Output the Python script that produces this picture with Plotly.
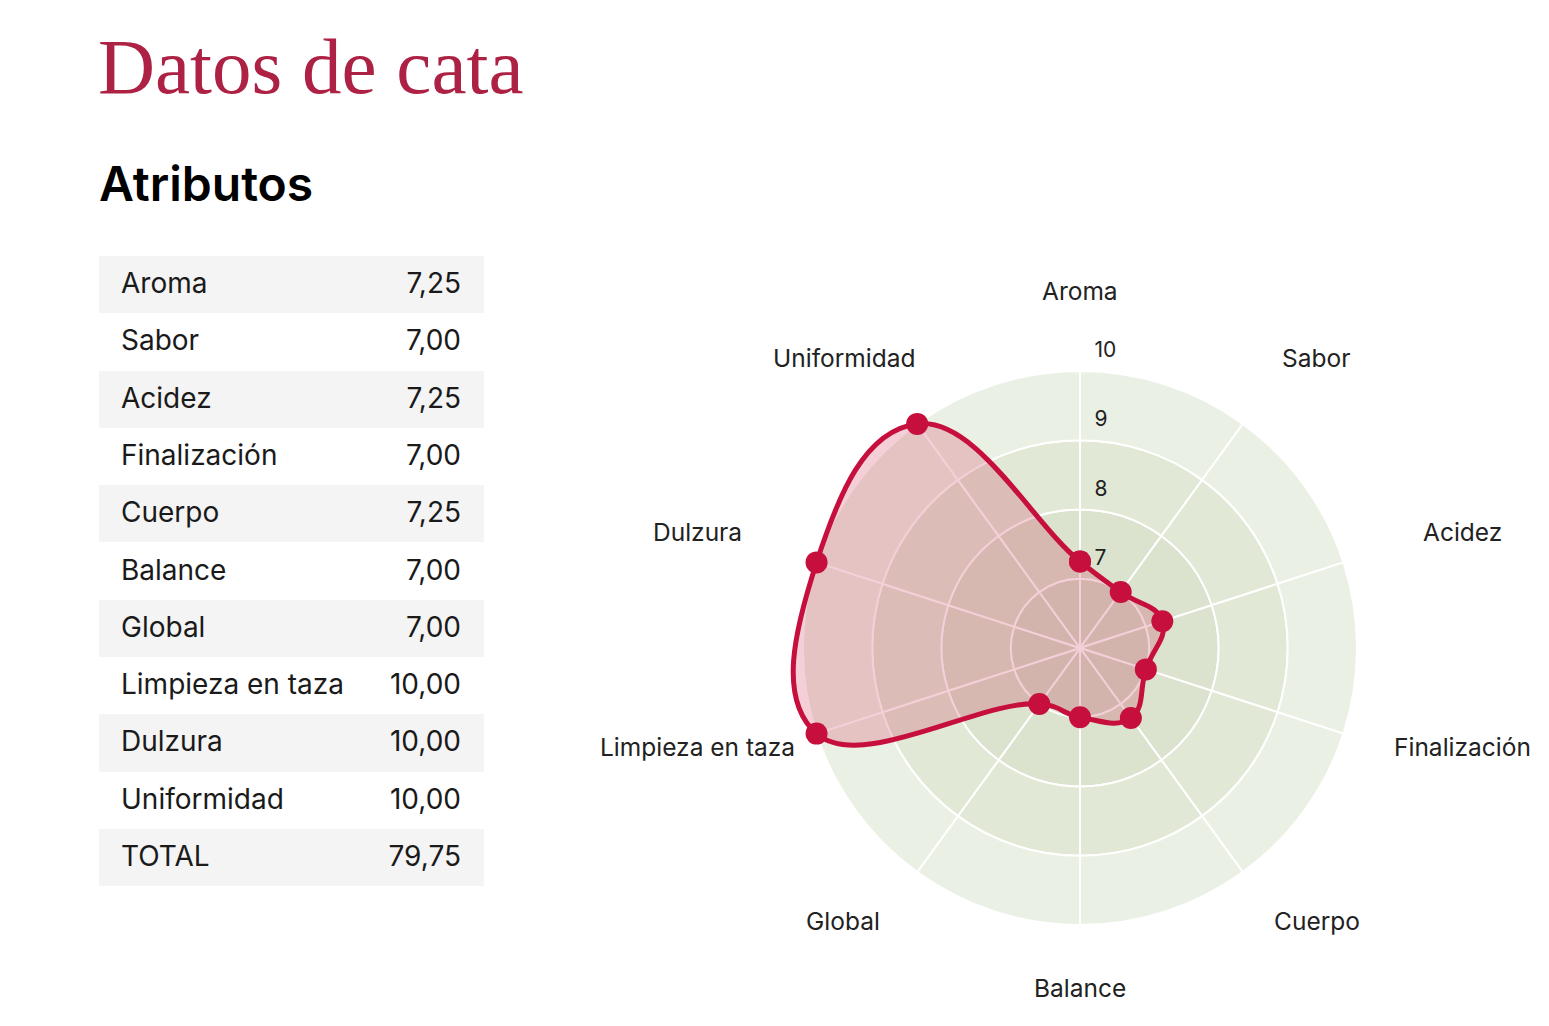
import math
import plotly.graph_objects as go

# ---------------- data ----------------
categories = ["Aroma", "Sabor", "Acidez", "Finalización", "Cuerpo", "Balance",
              "Global", "Limpieza en taza", "Dulzura", "Uniformidad"]
scores = [7.25, 7.00, 7.25, 7.00, 7.25, 7.00, 7.00, 10.00, 10.00, 10.00]
total_label = "TOTAL"
total_score = 79.75
radial_ticks = [7, 8, 9, 10]
ring_bases = [6, 7, 8, 9]

# ---------------- styling ----------------
W, H = 1549, 1026
RED = "#c60f3d"
TITLE_RED = "#ad2244"
SANS = "Inter"
ring_colors = ["#d5dec8", "#dbe3cf", "#e1e8d6", "#ebf0e4"]
R_MIN, R_MAX = 6, 10          # scale shown by the rings
R_OUT = 10.45                 # extra room so the smoothed line is not clipped
CX, CY, RADIUS_PX = 1080, 648, 277   # RADIUS_PX = pixel radius of the value 10 ring
DOMAIN_R = RADIUS_PX * (R_OUT - R_MIN) / (R_MAX - R_MIN)
# category label layout: distance of label centre from chart centre (px) and angular nudge (deg)
label_dist_px = [357, 374, 400, 395, 362, 340, 362, 395, 400, 374]
label_nudge_deg = [0, 3.1, 1.2, -3.5, -5.0, 0, 5.0, 3.5, -1.2, -3.1]


def px_x(x):
    return x / W


def px_y(y):
    return 1 - y / H


n = len(categories)
step = 360 / n
theta_pts = [i * step for i in range(n)]
theta_mid = [i * step + step / 2 for i in range(n)]

fig = go.Figure()

# background rings (white borders act as the grid)
for base, col in zip(ring_bases, ring_colors):
    fig.add_trace(go.Barpolar(
        theta=theta_mid, r=[1] * n, base=[base] * n, width=[step] * n,
        marker=dict(color=col, line=dict(color="white", width=2)),
        hoverinfo="skip", showlegend=False,
    ))

# radial tick labels
fig.add_trace(go.Scatterpolar(
    theta=[0] * len(radial_ticks), r=radial_ticks,
    text=["\u00a0" + str(t) for t in radial_ticks], mode="markers+text",
    textposition="top right", marker=dict(size=12, opacity=0),
    textfont=dict(family=SANS, size=21, color="#222"),
    hoverinfo="skip", showlegend=False, cliponaxis=False,
))

# data trace
fig.add_trace(go.Scatterpolar(
    theta=theta_pts + theta_pts[:1], r=scores + scores[:1],
    mode="lines+markers", fill="toself",
    fillcolor="rgba(200,16,60,0.2)",
    line=dict(color=RED, width=5, shape="spline", smoothing=1.3),
    marker=dict(color=RED, size=22),
    showlegend=False, cliponaxis=False,
))

# table
fmt = lambda v: f"{v:.2f}".replace(".", ",")
names = categories + [total_label]
vals = [fmt(v) for v in scores] + [fmt(total_score)]
fills = ["#f4f4f4" if i % 2 == 0 else "#ffffff" for i in range(len(names))]
blank = [""] * len(names)
clear = ["rgba(0,0,0,0)"] * len(names)
ROW_H = 57.3
HDR_PX = 16
TEXT_SHIFT = 8
TABLE_TOP, TABLE_BOTTOM = 256 - HDR_PX, 887
hdr = dict(values=[], height=1, fill=dict(color="rgba(0,0,0,0)"),
           line=dict(color="rgba(0,0,0,0)", width=0), font=dict(size=1))

fig.add_trace(go.Table(  # row backgrounds
    domain=dict(x=[px_x(99), px_x(484)], y=[px_y(TABLE_BOTTOM), px_y(TABLE_TOP)]),
    columnwidth=[14, 256, 100, 15], header=hdr,
    cells=dict(values=[blank, blank, blank, blank],
               fill=dict(color=[fills] * 4),
               line=dict(color="rgba(0,0,0,0)", width=0), height=ROW_H),
))
fig.add_trace(go.Table(  # row text
    domain=dict(x=[px_x(99), px_x(484)],
                y=[px_y(TABLE_BOTTOM + TEXT_SHIFT), px_y(TABLE_TOP + TEXT_SHIFT)]),
    columnwidth=[14, 256, 100, 15], header=hdr,
    cells=dict(values=[blank, names, vals, blank],
               align=["left", "left", "right", "left"],
               fill=dict(color=[clear] * 4),
               line=dict(color="rgba(0,0,0,0)", width=0), height=ROW_H,
               font=dict(family=SANS, size=28, color="#1a1a1a")),
))

# category labels placed around the chart
annotations = []
for cat, t, d, nd in zip(categories, theta_pts, label_dist_px, label_nudge_deg):
    a = math.radians(t + nd)
    annotations.append(dict(
        text=cat, x=px_x(CX + d * math.sin(a)), y=px_y(CY - d * math.cos(a)),
        xref="paper", yref="paper", xanchor="center", yanchor="middle",
        showarrow=False, font=dict(family=SANS, size=24.5, color="#222"),
    ))

annotations += [
    dict(text="Datos de cata", x=px_x(96), y=px_y(21), xref="paper", yref="paper",
         xanchor="left", yanchor="top", showarrow=False,
         font=dict(family="Liberation Serif", size=79, color=TITLE_RED)),
    dict(text="Atributos", x=px_x(97), y=px_y(152), xref="paper", yref="paper",
         xanchor="left", yanchor="top", showarrow=False,
         font=dict(family=SANS, size=48, color="#000", weight=600)),
]

fig.update_layout(
    width=W, height=H,
    margin=dict(l=0, r=0, t=0, b=0),
    paper_bgcolor="white", plot_bgcolor="white",
    polar=dict(
        domain=dict(x=[px_x(CX - DOMAIN_R), px_x(CX + DOMAIN_R)],
                    y=[px_y(CY + DOMAIN_R), px_y(CY - DOMAIN_R)]),
        bgcolor="rgba(0,0,0,0)",
        barmode="overlay",
        angularaxis=dict(
            type="linear", rotation=90, direction="clockwise",
            showticklabels=False, showgrid=False, showline=False, ticks="",
        ),
        radialaxis=dict(
            range=[R_MIN, R_OUT], showticklabels=False,
            showgrid=False, showline=False, ticks="",
        ),
    ),
    annotations=annotations,
)

fig.write_html("out.html")
